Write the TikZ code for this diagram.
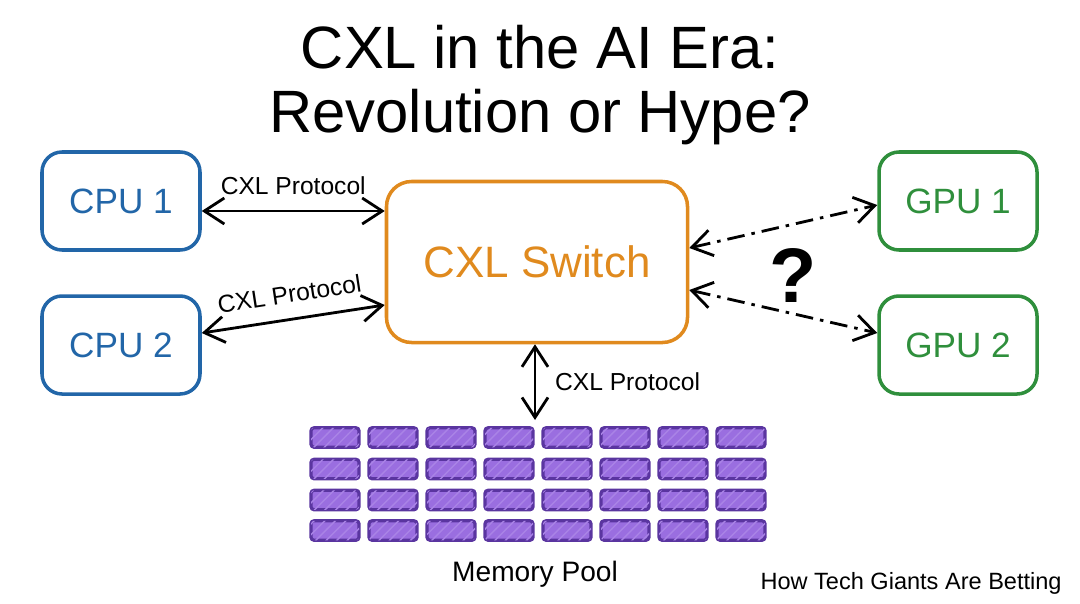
\documentclass[tikz,border=0pt]{standalone}
\usepackage{fontspec}
\setmainfont{Liberation Sans}
\usetikzlibrary{arrows.meta,patterns}

\definecolor{cpublue}{HTML}{2266A8}
\definecolor{swOrange}{HTML}{E08A1E}
\definecolor{gpugreen}{HTML}{2F8F3C}
\definecolor{memfill}{HTML}{9A6EE0}
\definecolor{memline}{HTML}{5A35A0}
\definecolor{memhatch}{HTML}{A983E6}

\begin{document}
\begin{tikzpicture}[
		box/.style={draw, line width=1pt, rounded corners=2mm, minimum width=1.58cm, minimum height=0.98cm, font=\fontsize{10}{12}\selectfont},
		link/.style={{Straight Barb[length=2mm,width=2.6mm]}-{Straight Barb[length=2mm,width=2.6mm]}, line width=0.8pt},
		maybe/.style={link, dash pattern=on 5pt off 2pt on 1pt off 2pt},
		proto/.style={font=\fontsize{7}{8}\selectfont},
		cell/.style={draw=memline, fill=memfill, line width=0.9pt, rounded corners=0.3mm, minimum width=0.48cm, minimum height=0.195cm, inner sep=0pt,
			postaction={pattern=north east lines, pattern color=memhatch}}
	]
		\useasboundingbox (0,0) rectangle (10.8,-6.03);
		
		% Title
		\node[anchor=base, font=\fontsize{17}{19}\selectfont] (title1) at (5.4,-0.68) {CXL in the AI Era:};
		\node[anchor=base, font=\fontsize{17}{19}\selectfont] (title2) at (5.4,-1.32) {Revolution or Hype?};
		
		% Processors on the left, accelerators on the right
		\node[box, draw=cpublue, text=cpublue] (cpu1) at (1.21,-2.01) {CPU 1};
		\node[box, draw=cpublue, text=cpublue] (cpu2) at (1.21,-3.45) {CPU 2};
		\node[box, draw=gpugreen, text=gpugreen] (gpu1) at (9.58,-2.01) {GPU 1};
		\node[box, draw=gpugreen, text=gpugreen] (gpu2) at (9.58,-3.45) {GPU 2};
		
		% The switch in the middle
		\node[box, draw=swOrange, text=swOrange, minimum width=3.01cm, minimum height=1.61cm, rounded corners=2.5mm, font=\fontsize{12.5}{15}\selectfont] (switch) at (5.37,-2.62) {CXL Switch};
		
		% CPU links
		\draw[link] ([yshift=-1mm]cpu1.east) -- ([yshift=-1mm]cpu1.east -| switch.west) node[midway, above=1pt, proto] {CXL Protocol};
		\draw[link] ([yshift=1.2mm]cpu2.east) -- ([yshift=-4.3mm]switch.west) node[midway, above=1pt, sloped, proto] {CXL Protocol};
		
		% GPU links (uncertain)
		\draw[maybe] ([yshift=1.4mm]switch.east) -- ([yshift=-0.4mm]gpu1.west);
		\draw[maybe] ([yshift=-2.8mm]switch.east) -- ([yshift=1.2mm]gpu2.west);
		\node[font=\bfseries\fontsize{22}{24}\selectfont] (ask) at (7.93,-2.75) {?};
		
		% Memory pool
		\foreach \c in {0,...,7}
			\foreach \r/\y in {0/-4.375,1/-4.69,2/-5.0,3/-5.305}
				\node[cell] (cell-\c-\r) at (3.35+0.58*\c,\y) {};
		\coordinate (pooltop) at (5.35,-4.2);
		\node[font=\fontsize{8}{10}\selectfont] (pool) at (5.35,-5.74) {Memory Pool};
		\draw[link] (switch.south -| pooltop) -- (pooltop) node[midway, right=2pt, proto] {CXL Protocol};
		
		% Footer
		\node[anchor=east, font=\fontsize{6.7}{8}\selectfont] (footer) at (10.74,-5.83) {How Tech Giants Are Betting};
	\end{tikzpicture}
\end{document}
